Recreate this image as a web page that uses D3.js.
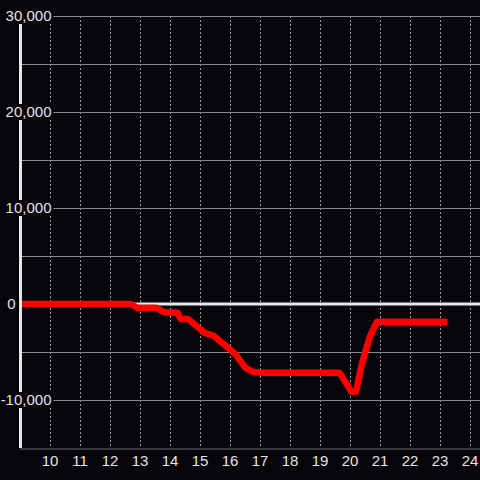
<!DOCTYPE html>
<html>
<head>
<meta charset="utf-8">
<script src="https://cdn.jsdelivr.net/npm/d3@7"></script>
<style>
html,body{margin:0;padding:0;background:#060509;}
svg{display:block;}
</style>
</head>
<body>
<script>
const xValues = [9, 12.7, 12.9, 13.55, 13.8, 14.25, 14.35, 14.6, 15.15, 15.45, 16.05, 16.2, 16.5, 16.75, 17.0, 19.65, 20.05, 20.2, 20.4, 20.65, 20.9, 23.25];
const yValues = [0, 0, -400, -400, -850, -900, -1550, -1550, -3000, -3300, -4850, -5300, -6600, -7050, -7150, -7150, -9150, -9150, -6200, -3500, -1850, -1850];
const xTicks = [10, 11, 12, 13, 14, 15, 16, 17, 18, 19, 20, 21, 22, 23, 24];
const yGridTicks = [-10000, -5000, 5000, 10000, 15000, 20000, 25000, 30000];
const yLabelTicks = [-10000, 0, 10000, 20000, 30000];

const W = 480, H = 480;
const svg = d3.select("body").append("svg").attr("width", W).attr("height", H);
svg.append("rect").attr("width", W).attr("height", H).attr("fill", "#060509");

const x = d3.scaleLinear().domain([9, 24 + 1/3]).range([20, 480]);
const y = d3.scaleLinear().domain([-15000, 30000]).range([448, 16]);

const fmt = d3.formatLocale({decimal: ".", thousands: ",", grouping: [3], currency: ["$", ""], minus: "-"}).format(",");
const font = "'Liberation Sans', Arial, sans-serif";

// vertical dashed grid
svg.append("g").selectAll("line").data(xTicks).join("line")
  .attr("x1", d => x(d) + 0.5).attr("x2", d => x(d) + 0.5)
  .attr("y1", y(30000)).attr("y2", y(-15000))
  .attr("stroke", "#9a9a9a").attr("stroke-width", 1).attr("stroke-dasharray", "2,2");

// horizontal grid
svg.append("g").selectAll("line").data(yGridTicks).join("line")
  .attr("x1", 20).attr("x2", W)
  .attr("y1", d => y(d) + 0.5).attr("y2", d => y(d) + 0.5)
  .attr("stroke", "#8a8c88").attr("stroke-width", 1);

// bottom axis line
svg.append("line").attr("x1", 20).attr("x2", W)
  .attr("y1", y(-15000) + 1).attr("y2", y(-15000) + 1)
  .attr("stroke", "#6a6a6a").attr("stroke-width", 1);

// zero line
svg.append("line").attr("x1", 20).attr("x2", W)
  .attr("y1", y(0)).attr("y2", y(0))
  .attr("stroke", "#e6e6e6").attr("stroke-width", 3);

// data line
const pts = xValues.map((v, i) => [v, yValues[i]]);
svg.append("path").datum(pts)
  .attr("d", d3.line().x(d => x(d[0])).y(d => y(d[1])))
  .attr("fill", "none").attr("stroke", "#ff0000").attr("stroke-width", 6.5)
  .attr("stroke-linejoin", "round").attr("stroke-linecap", "butt");

// y axis line
svg.append("line").attr("x1", 20.5).attr("x2", 20.5)
  .attr("y1", y(30000)).attr("y2", y(-15000))
  .attr("stroke", "#e6e6e6").attr("stroke-width", 3);

// y labels with background boxes
const yl = svg.append("g").selectAll("g").data(yLabelTicks).join("g");
yl.each(function(d) {
  const g = d3.select(this);
  const isZero = d === 0;
  const endX = isZero ? 15.5 : 51.5;
  const t = g.append("text")
    .attr("x", endX).attr("y", y(d))
    .attr("dy", "0.36em")
    .attr("text-anchor", "end")
    .attr("font-family", font).attr("font-size", 15)
    .attr("fill", "#e4e4e4")
    .text(fmt(d));
  if (!isZero) {
    const bb = t.node().getBBox();
    g.insert("rect", "text")
      .attr("x", bb.x - 2).attr("y", y(d) - 8)
      .attr("width", bb.width + 4).attr("height", 16)
      .attr("fill", "#060509");
  }
});

// x labels
svg.append("g").selectAll("text").data(xTicks).join("text")
  .attr("x", d => x(d)).attr("y", 461)
  .attr("dy", "0.36em")
  .attr("text-anchor", "middle")
  .attr("font-family", font).attr("font-size", 15)
  .attr("fill", "#e4e4e4")
  .text(d => d);
</script>
</body>
</html>
